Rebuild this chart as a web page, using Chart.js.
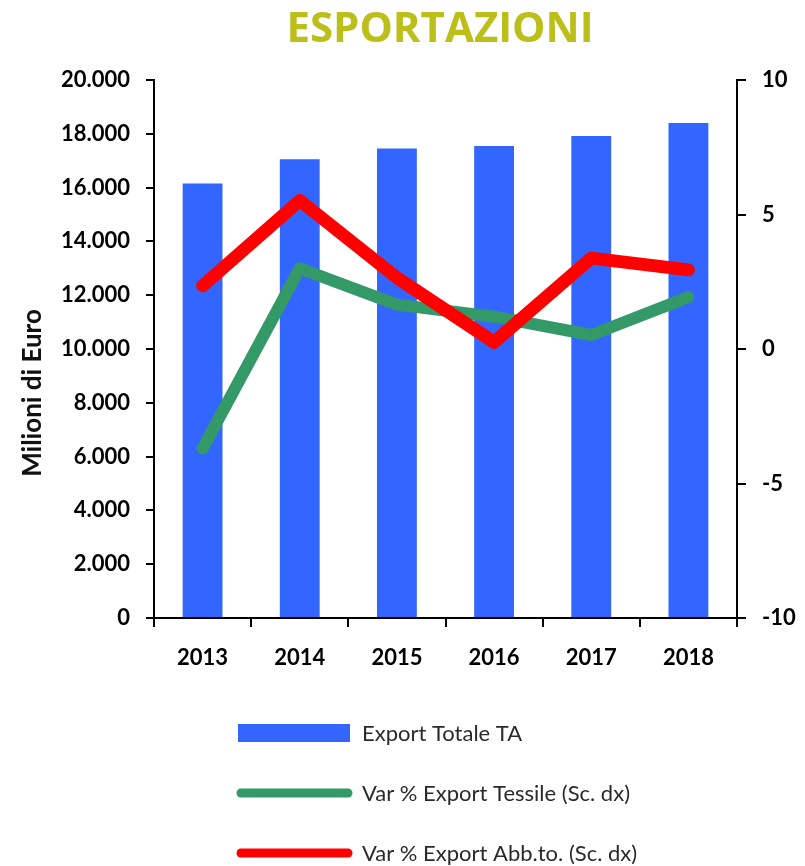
<!DOCTYPE html>
<html>
<head>
<meta charset="utf-8">
<script src="https://cdn.jsdelivr.net/npm/chart.js@4/dist/chart.umd.min.js"></script>
<style>
  html, body { margin: 0; padding: 0; background: #fff; }
  #wrap { width: 805px; height: 866px; position: relative; }
</style>
</head>
<body>
<div id="wrap"><canvas id="c"></canvas></div>
<script>
const TITLE = 'ESPORTAZIONI';
const Y_TITLE = 'Milioni di Euro';
const YEARS = ['2013', '2014', '2015', '2016', '2017', '2018'];
const EXPORT_TOTALE = [16150, 17050, 17450, 17550, 17920, 18400];
const VAR_TESSILE = [-3.7, 3.0, 1.65, 1.2, 0.52, 1.93];
const VAR_ABBIGLIAMENTO = [2.35, 5.52, 2.65, 0.25, 3.38, 2.94];
const SERIES_LABELS = ['Export Totale TA', 'Var % Export Tessile (Sc. dx)', 'Var % Export Abb.to. (Sc. dx)'];
const LEFT_AXIS = { min: 0, max: 20000, step: 2000 };
const RIGHT_AXIS = { min: -10, max: 10, step: 5 };

const BLUE = '#3366FF', GREEN = '#339966', RED = '#FF0000';
const TICK_FONT = { family: 'Lato', size: 22, weight: 'bold' };

function fmtThousands(v) {
  return String(Math.round(v)).replace(/\B(?=(\d{3})+(?!\d))/g, '.');
}

const decorPlugin = {
  id: 'decor',
  afterDraw(chart) {
    const ctx = chart.ctx;
    ctx.save();
    // Title
    ctx.fillStyle = '#BCBE19';
    ctx.font = 'bold 42px "Open Sans"';
    ctx.textAlign = 'center';
    ctx.textBaseline = 'middle';
    ctx.fillText(TITLE, 440, 30);
    // Y axis title
    ctx.save();
    ctx.translate(33, 393);
    ctx.rotate(-Math.PI / 2);
    ctx.fillStyle = '#111';
    ctx.font = 'bold 26px Lato';
    ctx.textAlign = 'center';
    ctx.textBaseline = 'middle';
    ctx.fillText(Y_TITLE, 0, 0);
    ctx.restore();
    // Legend
    const rows = [733, 793, 853];
    chart.data.datasets.forEach((ds, i) => {
      const y = rows[i];
      if (ds.type === 'bar') {
        ctx.fillStyle = ds.backgroundColor;
        ctx.fillRect(238, y - 9, 112, 18);
      } else {
        ctx.strokeStyle = ds.borderColor;
        ctx.lineWidth = 9;
        ctx.lineCap = 'round';
        ctx.beginPath();
        ctx.moveTo(241, y);
        ctx.lineTo(348, y);
        ctx.stroke();
      }
      ctx.fillStyle = '#2a2a2a';
      ctx.font = '22px Lato';
      ctx.textAlign = 'left';
      ctx.textBaseline = 'middle';
      ctx.fillText(ds.label, 362, y + 1);
    });
    ctx.restore();
  }
};

new Chart(document.getElementById('c'), {
  data: {
    labels: YEARS,
    datasets: [
      {
        type: 'bar', label: SERIES_LABELS[0], data: EXPORT_TOTALE,
        backgroundColor: BLUE, yAxisID: 'y', order: 3,
        barPercentage: 0.41, categoryPercentage: 1.0
      },
      {
        type: 'line', label: SERIES_LABELS[1], data: VAR_TESSILE,
        borderColor: GREEN, backgroundColor: GREEN, borderWidth: 12,
        borderJoinStyle: 'round', borderCapStyle: 'round',
        pointRadius: 0, tension: 0, yAxisID: 'y1', order: 2
      },
      {
        type: 'line', label: SERIES_LABELS[2], data: VAR_ABBIGLIAMENTO,
        borderColor: RED, backgroundColor: RED, borderWidth: 13,
        borderJoinStyle: 'round', borderCapStyle: 'round',
        pointRadius: 0, tension: 0, yAxisID: 'y1', order: 1
      }
    ]
  },
  options: {
    responsive: true,
    maintainAspectRatio: false,
    animation: false,
    layout: { padding: { top: 80, bottom: 188, left: 0, right: 0 } },
    plugins: {
      legend: { display: false },
      title: { display: false },
      tooltip: { enabled: false }
    },
    scales: {
      x: {
        offset: true,
        grid: { display: true, offset: true, drawOnChartArea: false, tickLength: 9, color: '#000', lineWidth: 2 },
        border: { display: true, color: '#000', width: 2 },
        ticks: { color: '#000', font: TICK_FONT, padding: 18 },
        afterFit(s) { s.height = 60; }
      },
      y: {
        position: 'left',
        min: LEFT_AXIS.min, max: LEFT_AXIS.max,
        grid: { display: true, drawOnChartArea: false, tickLength: 8, color: '#000', lineWidth: 2 },
        border: { display: true, color: '#000', width: 2 },
        ticks: { stepSize: LEFT_AXIS.step, color: '#000', font: TICK_FONT, padding: 16,
                 callback: v => fmtThousands(v) },
        afterFit(s) { s.width = 154; }
      },
      y1: {
        position: 'right',
        min: RIGHT_AXIS.min, max: RIGHT_AXIS.max,
        grid: { display: true, drawOnChartArea: false, tickLength: 9, color: '#000', lineWidth: 2 },
        border: { display: true, color: '#000', width: 2 },
        ticks: { stepSize: RIGHT_AXIS.step, color: '#000', font: TICK_FONT, padding: 16 },
        afterFit(s) { s.width = 68; }
      }
    }
  },
  plugins: [decorPlugin]
});
</script>
</body>
</html>
